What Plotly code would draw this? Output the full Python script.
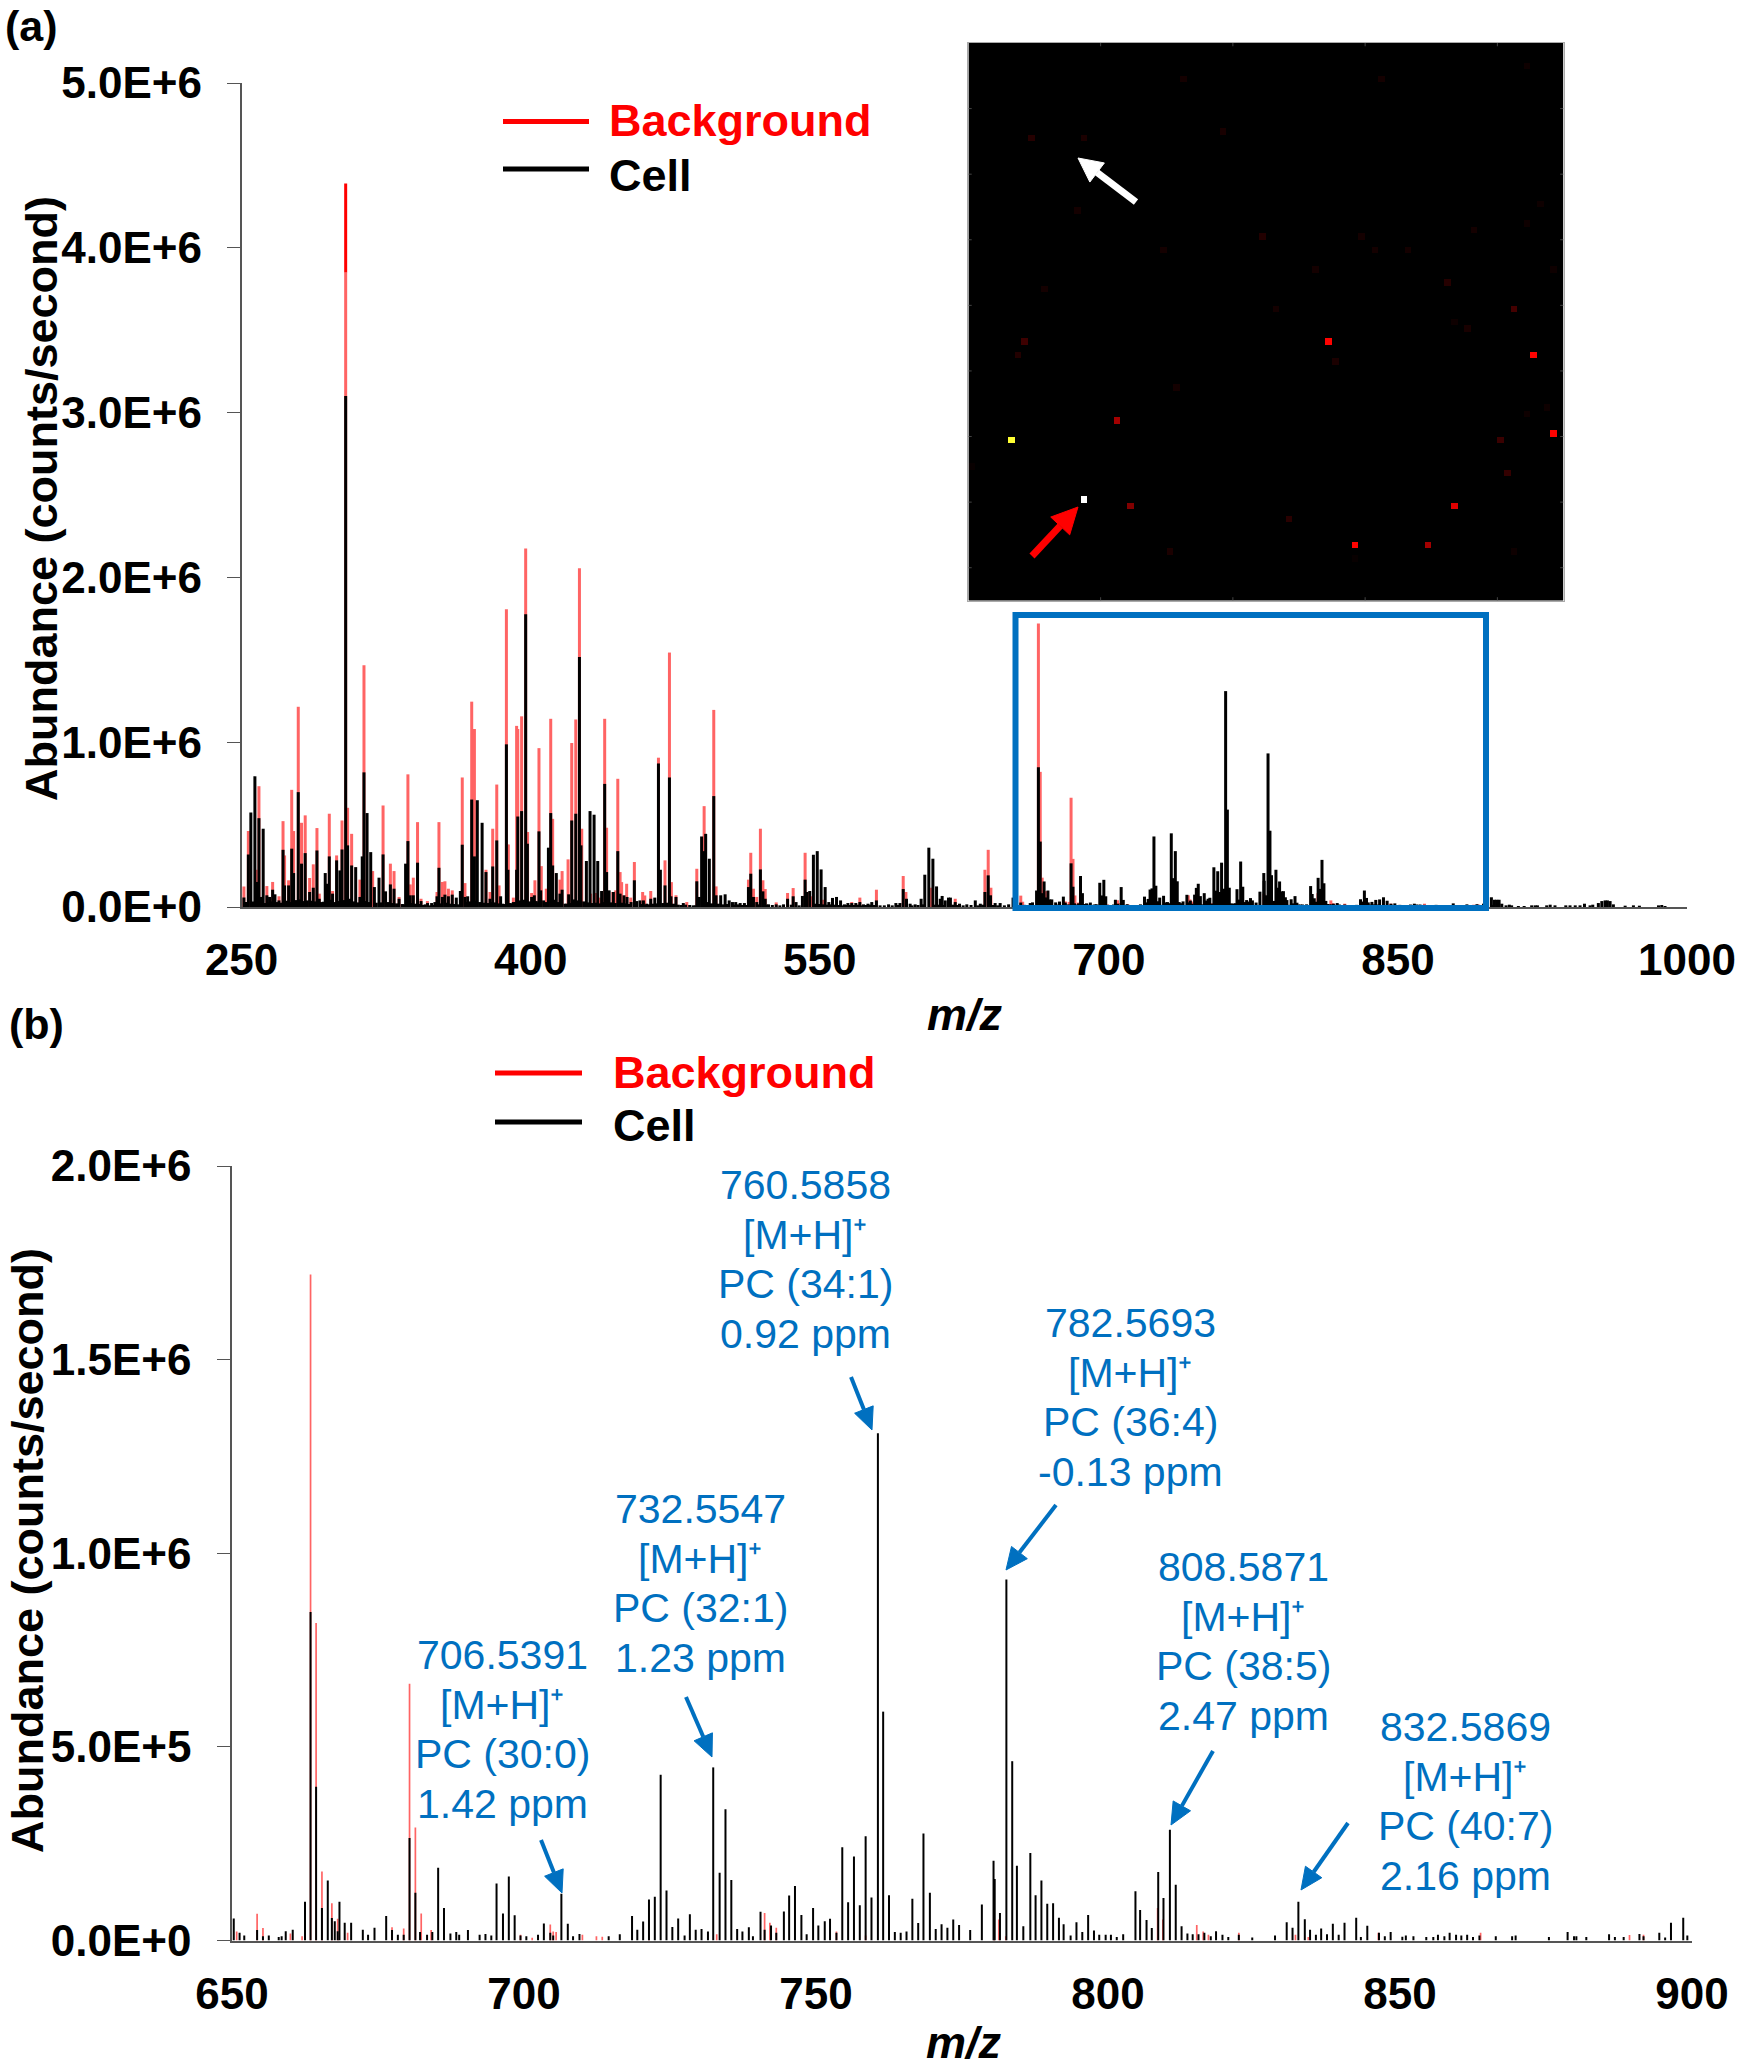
import math
import plotly.graph_objects as go

W = 1740
H = 2070

# m/z below 650, only seen in panel (a). Abundance in thousands of counts/second
low_cell_mz = [251.2, 253.5, 254.8, 256.9, 258.0, 259.0, 260.0, 261.2, 263.1, 264.5, 266.1, 267.3, 269.4, 271.5, 272.3,
               274.4, 276.0, 277.0, 279.4, 281.1, 283.0, 285.3, 287.2, 289.1, 290.3, 293.4, 294.5, 295.5, 297.2, 299.3,
               301.0, 302.1, 304.0, 305.0, 307.1, 309.2, 311.4, 312.6, 313.5, 315.1, 317.0, 318.9, 321.3, 323.4, 324.7,
               327.2, 329.1, 331.7, 335.1, 336.3, 337.5, 339.1, 341.3, 343.1, 345.2, 346.5, 348.6, 350.3, 351.4, 352.4,
               354.2, 355.5, 357.3, 359.3, 361.4, 363.5, 364.5, 365.9, 367.3, 369.4, 370.8, 372.3, 374.8, 376.8, 378.9,
               380.3, 382.4, 384.4, 387.4, 388.2, 391.0, 392.7, 393.3, 395.3, 397.4, 398.3, 400.5, 401.9, 404.3, 405.2,
               406.7, 409.2, 410.4, 411.4, 413.3, 415.2, 416.3, 417.8, 419.7, 421.3, 423.4, 425.3, 426.1, 428.9, 430.8,
               432.9, 434.8, 436.8, 438.4, 439.4, 440.7, 442.9, 445.2, 446.4, 448.4, 450.0, 452.1, 453.8, 455.0, 456.7,
               458.5, 460.2, 462.3, 464.4, 466.3, 467.3, 469.7, 472.0, 472.8, 475.4, 479.2, 486.2, 487.5, 488.7, 490.0,
               490.8, 492.7, 495.0, 496.2, 498.6, 500.9, 503.0, 504.7, 506.4, 508.7, 510.9, 513.0, 514.2, 515.6, 517.3,
               519.2, 520.5, 521.7, 523.4, 527.4, 531.2, 533.3, 536.2, 537.7, 541.0, 542.4, 543.3, 544.8, 546.7, 548.7,
               550.7, 552.8, 554.7, 556.6, 558.7, 560.8, 562.8, 564.6, 566.6, 568.7, 570.8, 572.7, 575.0, 577.0, 579.4,
               581.3, 585.7, 589.5, 591.6, 593.3, 595.0, 596.9, 599.5, 602.6, 604.5, 606.6, 608.7, 610.6, 612.5, 613.5,
               615.1, 616.8, 617.8, 620.3, 622.5, 626.3, 630.7, 633.3, 635.7, 637.4, 638.6, 641.0, 643.6, 648.0]
low_cell_k = [57, 319, 574, 793, 152, 539, 61, 475, 71, 61, 105, 77, 40, 347, 131,
              131, 354, 206, 697, 263, 327, 91, 117, 343, 50, 206, 141, 307, 81, 283,
              222, 349, 3100, 374, 252, 242, 61, 307, 817, 570, 333, 121, 178, 319, 95,
              137, 111, 50, 263, 400, 71, 71, 269, 36, 16, 24, 24, 30, 65, 238,
              61, 75, 65, 75, 57, 97, 378, 61, 65, 652, 307, 648, 511, 212, 50,
              246, 404, 65, 987, 226, 30, 226, 549, 582, 1776, 384, 61, 71, 459, 101,
              40, 360, 570, 252, 206, 81, 105, 20, 77, 525, 566, 1517, 374, 279, 582,
              560, 279, 97, 747, 212, 101, 91, 339, 81, 71, 61, 30, 162, 36, 40,
              40, 20, 50, 57, 871, 226, 131, 786, 65, 61, 24, 156, 61, 428, 339,
              444, 293, 673, 71, 71, 77, 40, 30, 30, 24, 24, 121, 202, 61, 30,
              228, 95, 50, 16, 16, 16, 50, 65, 30, 67, 166, 91, 97, 317, 339,
              228, 121, 30, 55, 61, 40, 16, 24, 24, 24, 30, 16, 20, 30, 40,
              10, 16, 24, 24, 109, 50, 20, 16, 50, 196, 360, 293, 125, 50, 67,
              40, 57, 57, 30, 20, 16, 40, 20, 91, 192, 71, 24, 24, 16]

low_background_mz = [251.2, 253.5, 258.0, 259.0, 263.1, 266.1, 269.4, 271.5, 272.3, 274.4, 276.0, 277.0, 279.4, 281.1,
                     283.0, 285.3, 287.2, 289.1, 290.3, 295.5, 297.2, 299.3, 302.1, 304.0, 305.0, 307.1, 311.4, 313.5,
                     318.0, 323.4, 327.2, 329.1, 331.7, 336.3, 337.5, 339.1, 341.3, 343.1, 346.4, 351.4, 352.4, 354.2,
                     355.5, 357.3, 359.3, 364.5, 365.9, 369.4, 370.8, 376.8, 378.9, 380.3, 382.4, 383.6, 387.4, 388.4,
                     391.0, 392.7, 393.3, 395.3, 397.4, 398.4, 400.5, 402.2, 404.3, 405.5, 408.1, 410.4, 411.4, 415.2,
                     416.3, 419.4, 421.3, 423.4, 425.3, 426.5, 431.1, 433.7, 436.0, 438.4, 439.4, 442.6, 444.1, 445.2,
                     446.4, 447.2, 449.8, 451.9, 453.8, 458.1, 459.2, 462.3, 466.3, 469.7, 472.0, 473.0, 475.4, 481.0,
                     486.2, 490.0, 495.0, 496.2, 513.0, 514.2, 515.6, 517.3, 519.2, 520.5, 521.7, 527.4, 533.3, 536.2,
                     542.4, 543.6, 545.2, 552.0, 566.6, 570.8, 579.4, 593.3, 594.7, 607.8, 620.3, 635.7, 637.4, 638.8]
low_background_k = [125, 461, 226, 733, 127, 152, 65, 521, 313, 162, 711, 461, 1215, 511,
                    556, 176, 259, 479, 81, 566, 97, 313, 525, 3850, 602, 444, 166, 1467,
                    218, 616, 263, 218, 61, 805, 137, 178, 515, 50, 36, 91, 515, 152,
                    156, 111, 101, 786, 145, 1246, 1080, 226, 91, 475, 743, 131, 1807, 380,
                    57, 1099, 1080, 1157, 2175, 455, 85, 162, 964, 248, 111, 1142, 535, 166,
                    218, 289, 995, 1138, 2055, 475, 81, 85, 57, 1142, 481, 91, 101, 778,
                    212, 151, 141, 57, 273, 91, 70, 97, 906, 283, 1544, 151, 71, 30,
                    232, 612, 1196, 125, 166, 329, 111, 61, 475, 162, 109, 28, 85, 115,
                    329, 91, 65, 44, 30, 57, 105, 188, 91, 117, 50, 226, 347, 117]

# low level peaks filling the gaps between the stems in panel (a)
grass_mz = [252.2, 255.8, 257.9, 260.6, 262.1, 263.8, 265.3, 268.3, 270.4, 273.3, 275.2, 278.2, 280.2, 282.0, 284.1,
            286.2, 288.1, 291.4, 292.4, 296.3, 298.2, 300.2, 303.1, 306.0, 308.1, 310.3, 314.3, 316.0, 319.9, 322.3,
            325.9, 328.1, 330.4, 333.4, 334.2, 338.3, 340.2, 342.2, 344.1, 347.6, 349.5, 353.3, 356.4, 358.3, 360.4,
            362.4, 366.6, 368.3, 371.6, 373.5, 375.8, 377.8, 379.6, 381.4, 383.4, 385.4, 386.4, 389.3, 390.2, 392.0,
            394.3, 396.3, 399.4, 402.9, 403.6, 407.9, 412.4, 414.2, 418.7, 420.5, 422.3, 424.4, 427.5, 429.8, 431.8,
            433.8, 435.8, 437.6, 441.8, 443.9, 447.4, 449.2, 451.1, 454.4, 457.6, 459.4, 461.2, 463.4, 465.4, 468.5,
            470.8, 474.1, 476.6, 478.0, 480.4, 482.5, 484.3, 485.4, 489.4, 491.7, 493.8, 497.4, 499.7, 501.9, 505.5,
            507.6, 509.8, 511.9, 518.2, 522.6, 525.4, 529.3, 535.2, 539.3, 547.7, 549.7, 551.7, 553.7, 555.7, 557.6,
            559.7, 561.8, 563.7, 565.6, 567.6, 569.7, 571.8, 573.8, 576.0, 578.2, 583.5, 587.6, 590.5, 597.9, 601.0,
            603.6, 609.7, 611.6, 614.3, 619.0, 621.4, 624.4, 628.5, 632.0, 634.5, 639.8, 642.3, 645.8]
grass_k = [30, 34, 26, 30, 24, 28, 34, 30, 26, 38, 30, 42, 46, 36, 40,
           38, 34, 30, 32, 44, 30, 36, 42, 50, 34, 28, 36, 30, 26, 28,
           30, 24, 22, 18, 16, 24, 20, 18, 12, 10, 12, 22, 26, 20, 18,
           16, 30, 34, 38, 30, 26, 24, 30, 28, 22, 20, 18, 24, 22, 30,
           40, 44, 34, 36, 28, 30, 44, 30, 20, 24, 46, 40, 34, 28, 24,
           26, 22, 30, 28, 24, 26, 22, 18, 20, 18, 14, 16, 20, 22, 24,
           26, 20, 14, 12, 14, 12, 10, 10, 24, 30, 22, 20, 16, 18, 14,
           16, 12, 12, 16, 14, 12, 10, 14, 10, 20, 18, 16, 14, 16, 14,
           12, 10, 12, 12, 12, 14, 10, 12, 14, 12, 10, 10, 12, 10, 12,
           16, 14, 14, 12, 14, 12, 10, 12, 10, 14, 12, 10, 10]

# top of the tallest background peak, drawn in full red in the original
strong_mz = [304.0, 304.0]
strong_k = [3850, 4390]

# m/z 650 to 900, shared by both panels
cell_mz = [650.3, 651.3, 652.1, 654.3, 655.3, 656.3, 658.0, 658.5, 659.2, 660.4, 662.5, 663.45, 664.4, 665.4, 666.4,
           667.1, 667.6, 668.1, 668.4, 669.3, 670.4, 672.4, 673.3, 674.4, 676.4, 677.4, 678.4, 679.4, 680.4, 681.4,
           682.2, 683.4, 684.3, 685.3, 686.3, 687.4, 688.4, 688.9, 690.4, 692.4, 693.4, 694.4, 695.3, 696.4, 697.4,
           698.4, 699.4, 700.4, 702.4, 703.4, 704.5, 705.0, 706.4, 707.5, 708.4, 709.5, 714.5, 716.4, 718.5, 719.4,
           720.4, 721.4, 722.4, 723.4, 724.4, 725.4, 726.4, 727.5, 728.4, 729.4, 730.4, 731.5, 732.4, 733.5, 734.5,
           735.5, 736.5, 737.4, 738.5, 739.2, 740.5, 741.2, 742.3, 743.2, 744.5, 745.4, 746.4, 747.5, 748.4, 749.5,
           750.4, 751.5, 752.4, 753.5, 754.5, 755.5, 756.5, 757.5, 758.5, 759.5, 760.6, 761.5, 762.5, 763.5, 764.5,
           765.5, 766.5, 767.5, 768.4, 769.5, 770.5, 771.5, 772.5, 773.5, 774.5, 776.4, 778.4, 780.4, 780.6, 781.5,
           782.6, 783.6, 784.4, 785.5, 786.7, 787.6, 788.6, 789.6, 790.6, 791.6, 792.4, 793.6, 794.6, 795.6, 796.6,
           797.6, 798.5, 799.6, 800.5, 801.5, 802.6, 804.7, 805.5, 806.6, 807.5, 808.6, 809.5, 810.6, 811.6, 812.6,
           813.6, 814.5, 815.5, 816.5, 817.6, 818.5, 819.6, 820.6, 822.4, 824.7, 828.6, 830.6, 831.6, 832.6, 833.7,
           834.6, 835.6, 836.5, 837.5, 838.5, 839.5, 840.5, 842.5, 843.3, 844.4, 846.4, 847.4, 848.4, 850.4, 851.0,
           852.3, 854.5, 855.7, 856.5, 857.6, 858.5, 859.6, 860.5, 861.5, 862.5, 863.6, 866.4, 869.2, 869.8, 875.5,
           878.7, 879.8, 880.2, 881.9, 885.8, 886.8, 888.3, 891.0, 891.7, 894.4, 895.4, 896.4, 898.5, 899.2]
cell_k = [57, 20, 13, 27, 11, 13, 9, 11, 24, 28, 100, 848, 397, 84, 155,
          58, 50, 24, 100, 46, 46, 28, 15, 33, 63, 27, 15, 15, 265, 123,
          22, 15, 22, 188, 84, 18, 22, 15, 27, 15, 17, 13, 147, 70, 165,
          65, 13, 11, 15, 44, 20, 13, 121, 43, 11, 17, 11, 16, 63, 28,
          49, 106, 113, 428, 129, 35, 57, 13, 68, 28, 30, 23, 447, 175, 339,
          156, 30, 23, 34, 11, 74, 28, 39, 20, 75, 116, 141, 66, 16, 84,
          39, 50, 56, 20, 241, 99, 217, 91, 269, 111, 1310, 591, 117, 22, 20,
          23, 108, 45, 276, 123, 30, 42, 33, 54, 40, 27, 93, 206, 159, 71,
          932, 463, 193, 37, 226, 117, 155, 95, 96, 59, 42, 13, 47, 22, 66,
          26, 15, 15, 15, 9, 16, 127, 79, 53, 32, 177, 110, 286, 144, 37,
          18, 16, 16, 20, 11, 24, 15, 9, 15, 8, 13, 47, 33, 100, 55,
          28, 15, 31, 16, 43, 15, 46, 59, 9, 38, 20, 11, 22, 10, 13,
          11, 9, 9, 15, 11, 20, 15, 13, 15, 9, 13, 11, 11, 13, 9,
          22, 11, 11, 9, 16, 9, 9, 17, 11, 20, 8, 46, 59, 13]

background_mz = [650.8, 654.3, 655.3, 660.0, 662.0, 663.45, 664.4, 665.4, 667.1, 668.1, 669.8, 677.4, 679.4, 680.4,
                 681.4, 682.4, 684.1, 699.4, 701.4, 704.5, 705.0, 705.5, 710.0, 712.4, 713.4, 721.4, 733.0, 741.2,
                 742.1, 743.2, 753.5, 758.5, 780.5, 781.3, 782.5, 808.5, 809.4, 815.2, 816.3, 817.2, 822.4, 832.1,
                 834.3, 846.3, 863.8, 889.3, 891.7]
background_k = [23, 69, 32, 18, 11, 1720, 820, 178, 96, 56, 20, 34, 31, 663,
                292, 70, 27, 15, 7, 41, 23, 22, 15, 11, 10, 13, 16, 71,
                46, 33, 23, 13, 80, 54, 11, 84, 54, 40, 23, 15, 20, 15,
                9, 20, 20, 14, 15]

# m/z above 900, only seen in panel (a)
high_cell_mz = [900.1, 901.3, 902.5, 903.9, 906.1, 907.8, 909.0, 912.5, 915.5, 919.4, 921.2, 922.4, 927.2, 929.0, 931.5,
                937.1, 939.3, 942.0, 944.5, 946.8, 949.7, 951.1, 954.0, 955.8, 957.5, 958.7, 960.1, 961.8, 967.9, 972.2,
                975.3, 985.2, 986.9, 988.6]
high_cell_k = [44, 44, 44, 20, 10, 14, 10, 6, 6, 10, 10, 10, 10, 14, 10,
               10, 10, 10, 10, 20, 10, 14, 24, 36, 40, 40, 36, 16, 8, 10,
               8, 10, 12, 6]

# inset ion image: sparse bright pixels on a 90 x 85 grid, level 0 to 1
image_cols = 90
image_rows = 85
spot_col = [84, 32, 62, 9, 17, 38, 16, 86, 84, 76, 44, 59, 29, 61, 66, 52, 88, 72, 11, 46, 82, 73, 75, 8,
            54, 7, 85, 55, 31, 22, 87, 84, 6, 80, 88, 0, 81, 17, 24, 73, 48, 58, 69, 30, 82, 58]
spot_row = [3, 5, 5, 14, 14, 13, 25, 24, 27, 28, 29, 29, 31, 31, 31, 34, 34, 36, 37, 40, 40, 42, 43, 45,
            45, 47, 47, 48, 52, 57, 55, 56, 60, 60, 59, 64, 65, 69, 70, 70, 72, 76, 76, 77, 77, 78]
spot_level = [.02, .03, .03, .055, .04, .035, .03, .02, .02, .03, .05, .03, .03, .03, .03, .03, .02, .055, .03, .03, .1, .02, .035, .09,
              .38, .05, .38, .04, .03, .24, .02, .02, .75, .085, .38, .012, .075, 1.0, .19, .33, .06, .38, .24, .04, .02, .012]

y_ticks_a = [0, 1000, 2000, 3000, 4000, 5000]
y_labels_a = ['0.0E+0', '1.0E+6', '2.0E+6', '3.0E+6', '4.0E+6', '5.0E+6']
x_ticks_a = [250, 400, 550, 700, 850, 1000]
y_ticks_b = [0, 500, 1000, 1500, 2000]
y_labels_b = ['0.0E+0', '5.0E+5', '1.0E+6', '1.5E+6', '2.0E+6']
x_ticks_b = [650, 700, 750, 800, 850, 900]

# label lines of the assigned peaks: mass, adduct, lipid, error
peak_labels = [
    ['760.5858', '[M+H]\u207a', 'PC (34:1)', '0.92 ppm'],
    ['782.5693', '[M+H]\u207a', 'PC (36:4)', '-0.13 ppm'],
    ['732.5547', '[M+H]\u207a', 'PC (32:1)', '1.23 ppm'],
    ['808.5871', '[M+H]\u207a', 'PC (38:5)', '2.47 ppm'],
    ['706.5391', '[M+H]\u207a', 'PC (30:0)', '1.42 ppm'],
    ['832.5869', '[M+H]\u207a', 'PC (40:7)', '2.16 ppm'],
]
label_centers = [(805, 1185), (1130, 1323), (700, 1509), (1243, 1567), (502, 1655), (1465, 1727)]
label_arrows = [(851, 1377, 872, 1430), (1056, 1505, 1006, 1570), (686, 1697, 712, 1757),
                (1213, 1751, 1171, 1825), (541, 1840, 562, 1893), (1348, 1823, 1301, 1890)]

RED_LIGHT = '#ff6464'
BLUE = '#0070C0'
FONT = 'Liberation Sans'


def px(x):
    return x / W


def py(y):
    return 1 - y / H


def stems(mz, values):
    xs = []
    ys = []
    for m, v in zip(mz, values):
        xs += [m, m, None]
        ys += [0, v, None]
    return xs, ys


def stem_trace(mz, values, color, width, xaxis, yaxis):
    xs, ys = stems(mz, values)
    return go.Scatter(x=xs, y=ys, mode='lines', line=dict(color=color, width=width),
                      xaxis=xaxis, yaxis=yaxis, showlegend=False, hoverinfo='skip')


def text_at(x, y, text, size, color='black', bold=False, italic=False, angle=0, anchor='center'):
    return dict(xref='paper', yref='paper', x=px(x), y=py(y), text=text, showarrow=False,
                xanchor=anchor, yanchor='middle', textangle=angle,
                font=dict(family=FONT, size=size, color=color,
                          weight='bold' if bold else 'normal',
                          style='italic' if italic else 'normal'))


def arrow_shapes(x0, y0, x1, y1, color, width, head_len, head_w):
    # shaft plus a filled head, both in page pixels
    d = math.hypot(x1 - x0, y1 - y0)
    ux = (x1 - x0) / d
    uy = (y1 - y0) / d
    bx = x1 - ux * head_len
    by = y1 - uy * head_len
    lx = bx - uy * head_w / 2
    ly = by + ux * head_w / 2
    rx = bx + uy * head_w / 2
    ry = by - ux * head_w / 2
    path = 'M %f %f L %f %f L %f %f Z' % (px(x1), py(y1), px(lx), py(ly), px(rx), py(ry))
    return [
        dict(type='line', xref='paper', yref='paper', x0=px(x0), y0=py(y0), x1=px(bx), y1=py(by),
             line=dict(color=color, width=width)),
        dict(type='path', xref='paper', yref='paper', path=path, fillcolor=color, line=dict(color=color, width=1)),
    ]


fig = go.Figure()

# panel (a)
fig.add_trace(stem_trace(low_background_mz + background_mz, low_background_k + background_k, RED_LIGHT, 3, 'x', 'y'))
fig.add_trace(go.Scatter(x=strong_mz, y=strong_k, mode='lines', line=dict(color='#ff0000', width=3),
                         xaxis='x', yaxis='y', showlegend=False, hoverinfo='skip'))
fig.add_trace(stem_trace(low_cell_mz + grass_mz + cell_mz + high_cell_mz, low_cell_k + grass_k + cell_k + high_cell_k,
                         'black', 3, 'x', 'y'))

# panel (b)
fig.add_trace(stem_trace(background_mz, background_k, RED_LIGHT, 1.7, 'x2', 'y2'))
fig.add_trace(stem_trace(cell_mz, cell_k, 'black', 2, 'x2', 'y2'))

# inset ion image
image = [[0] * image_cols for _ in range(image_rows)]
for c, r, v in zip(spot_col, spot_row, spot_level):
    image[r][c] = v
fig.add_trace(go.Heatmap(z=image, xaxis='x3', yaxis='y3', zmin=0, zmax=1, showscale=False, hoverinfo='skip',
                         colorscale=[[0, '#000000'], [0.375, '#ff0000'], [0.75, '#ffff33'], [1, '#ffffff']]))

annotations = []
annotations.append(text_at(3, 26, '(a)', 43, bold=True, anchor='left'))
annotations.append(text_at(7, 1024, '(b)', 43, bold=True, anchor='left'))
annotations.append(text_at(41, 499, 'Abundance (counts/second)', 45, bold=True, angle=-90))
annotations.append(text_at(27, 1551, 'Abundance (counts/second)', 45, bold=True, angle=-90))
annotations.append(text_at(965, 1015, 'm/z', 45, bold=True, italic=True))
annotations.append(text_at(964, 2042, 'm/z', 45, bold=True, italic=True))

# legends
annotations.append(text_at(607, 121, 'Background', 45, color='#ff0000', bold=True, anchor='left'))
annotations.append(text_at(607, 176, 'Cell', 45, bold=True, anchor='left'))
annotations.append(text_at(611, 1072, 'Background', 45, color='#ff0000', bold=True, anchor='left'))
annotations.append(text_at(611, 1125, 'Cell', 45, bold=True, anchor='left'))

# peak labels, one annotation per line for the tight spacing
for lines, center in zip(peak_labels, label_centers):
    for i, line in enumerate(lines):
        annotations.append(text_at(center[0], center[1] + i * 49.5, line, 41, color=BLUE))

shapes = [
    dict(type='rect', xref='paper', yref='paper', x0=px(1015.5), x1=px(1486), y0=py(908), y1=py(615),
         line=dict(color=BLUE, width=6)),
    dict(type='line', xref='paper', yref='paper', x0=px(503), x1=px(589), y0=py(121.5), y1=py(121.5),
         line=dict(color='#ff0000', width=5)),
    dict(type='line', xref='paper', yref='paper', x0=px(503), x1=px(589), y0=py(169), y1=py(169),
         line=dict(color='black', width=5)),
    dict(type='line', xref='paper', yref='paper', x0=px(495), x1=px(582), y0=py(1073), y1=py(1073),
         line=dict(color='#ff0000', width=5)),
    dict(type='line', xref='paper', yref='paper', x0=px(495), x1=px(582), y0=py(1122), y1=py(1122),
         line=dict(color='black', width=5)),
]
for a in label_arrows:
    shapes += arrow_shapes(a[0], a[1], a[2], a[3], BLUE, 4, 22, 20)
shapes += arrow_shapes(1136, 202, 1078, 158, 'white', 7, 24, 24)
shapes += arrow_shapes(1032, 556, 1078, 507, '#ff0000', 7, 26, 26)

# small inset ticks on all four sides of the image
for col in [19.5, 39.5, 59.5, 79.5]:
    shapes.append(dict(type='line', xref='x3', yref='y3', x0=col, x1=col, y0=84.5, y1=84.0,
                       line=dict(color='#444444', width=1)))
    shapes.append(dict(type='line', xref='x3', yref='y3', x0=col, x1=col, y0=-0.5, y1=0.0,
                       line=dict(color='#444444', width=1)))
for row in [9.5, 19.5, 29.5, 39.5, 49.5, 59.5, 69.5, 79.5]:
    shapes.append(dict(type='line', xref='x3', yref='y3', x0=-0.5, x1=0.0, y0=row, y1=row,
                       line=dict(color='#444444', width=1)))
    shapes.append(dict(type='line', xref='x3', yref='y3', x0=89.5, x1=89.0, y0=row, y1=row,
                       line=dict(color='#444444', width=1)))

tick_font = dict(family=FONT, size=44, color='black', weight='bold')
axis_line = dict(showline=True, linecolor='#555555', linewidth=1.5, showgrid=False, zeroline=False)

fig.update_layout(
    width=W, height=H, autosize=False,
    margin=dict(l=0, r=0, t=0, b=0, autoexpand=False),
    paper_bgcolor='white', plot_bgcolor='rgba(0,0,0,0)',
    showlegend=False,
    annotations=annotations,
    shapes=shapes,
    xaxis=dict(domain=[px(241.6), px(1687)], range=[250, 1000], anchor='y', tickmode='array', tickvals=x_ticks_a,
               ticks='outside', ticklen=13, tickcolor='rgba(0,0,0,0)', tickfont=tick_font, **axis_line),
    yaxis=dict(domain=[py(907), py(83)], range=[0, 5000], anchor='x', tickmode='array', tickvals=y_ticks_a,
               ticktext=y_labels_a, ticks='outside', ticklen=13, tickcolor='#555555', tickfont=tick_font,
               ticklabelstandoff=16, **axis_line),
    xaxis2=dict(domain=[px(232), px(1692)], range=[650, 900], anchor='y2', tickmode='array', tickvals=x_ticks_b,
                ticks='outside', ticklen=14, tickcolor='rgba(0,0,0,0)', tickfont=tick_font, **axis_line),
    yaxis2=dict(domain=[py(1940.5), py(1166)], range=[0, 2000], anchor='x2', tickmode='array', tickvals=y_ticks_b,
                ticktext=y_labels_b, ticks='outside', ticklen=13, tickcolor='#555555', tickfont=tick_font,
                ticklabelstandoff=17, **axis_line),
    xaxis3=dict(domain=[px(968.4), px(1563.5)], range=[-0.5, 89.5], anchor='y3', showticklabels=False, ticks='',
                showline=True, linecolor='#aaaaaa', linewidth=1, mirror=True, showgrid=False, zeroline=False),
    yaxis3=dict(domain=[py(600.5), py(43)], range=[84.5, -0.5], anchor='x3', showticklabels=False, ticks='',
                showline=True, linecolor='#aaaaaa', linewidth=1, mirror=True, showgrid=False, zeroline=False),
)

# the page's default body margin would push the whole figure off by 8 px
fig.write_html("out.html", config={'displayModeBar': False},
               post_script="document.body.style.margin = '0';")
